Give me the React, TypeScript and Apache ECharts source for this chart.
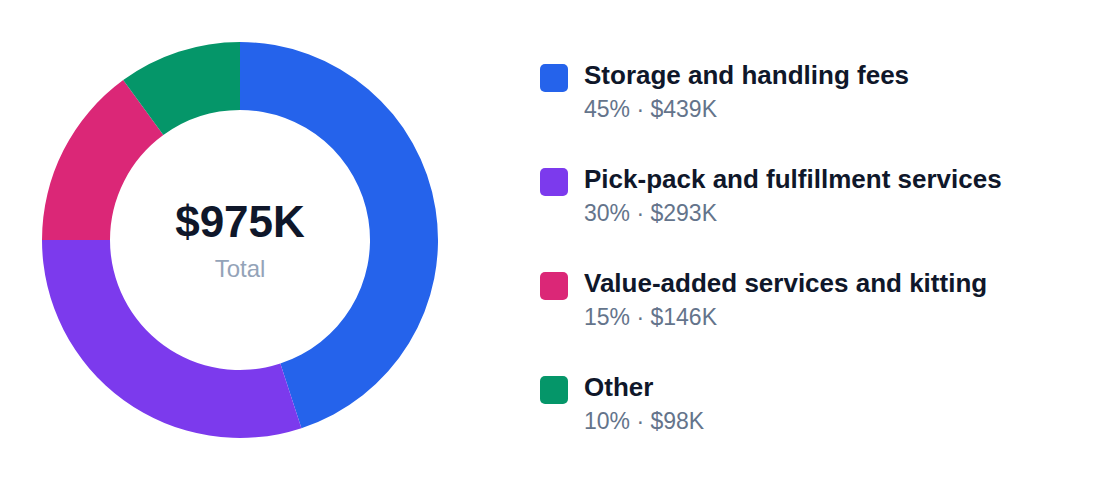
import React, { useEffect, useRef } from "react";
import * as echarts from "echarts";

const categories = [
  "Storage and handling fees",
  "Pick-pack and fulfillment services",
  "Value-added services and kitting",
  "Other",
];
const amounts = [439, 293, 146, 98]; // $K
const shares = [45, 30, 15, 10]; // %
const colors = ["#2563eb", "#7c3aed", "#db2777", "#059669"];
const totalLabel = "$975K";

const FONT = "'Liberation Sans', Arial, Helvetica, sans-serif";

const App = () => {
  const chartRef = useRef<HTMLDivElement>(null);

  useEffect(() => {
    document.body.style.margin = "0";
    const chart = echarts.init(chartRef.current, null, { renderer: "svg" });

    // legend on the right, one block per category
    const legendItems: any[] = [];
    categories.forEach((name, i) => {
      const top = 64 + i * 104;
      legendItems.push({
        type: "rect",
        shape: { x: 540, y: top, width: 28, height: 28, r: 5 },
        style: { fill: colors[i] },
      });
      legendItems.push({
        type: "text",
        x: 584,
        y: top + 11,
        style: {
          text: name,
          font: `bold 26px ${FONT}`,
          fill: "#0f172a",
          verticalAlign: "middle",
        },
      });
      legendItems.push({
        type: "text",
        x: 584,
        y: top + 45,
        style: {
          text: `${shares[i]}% · $${amounts[i]}K`,
          font: `23px ${FONT}`,
          fill: "#64748b",
          verticalAlign: "middle",
        },
      });
    });

    const option = {
      animation: false,
      backgroundColor: "#ffffff",
      graphic: [
        {
          type: "text",
          x: 240,
          y: 221,
          style: {
            text: totalLabel,
            font: `bold 44px ${FONT}`,
            fill: "#0f172a",
            align: "center",
            verticalAlign: "middle",
          },
        },
        {
          type: "text",
          x: 240,
          y: 268,
          style: {
            text: "Total",
            font: `24px ${FONT}`,
            fill: "#94a3b8",
            align: "center",
            verticalAlign: "middle",
          },
        },
        ...legendItems,
      ],
      series: [
        {
          type: "pie",
          center: [240, 240],
          radius: [130, 198],
          startAngle: 90,
          clockwise: true,
          silent: true,
          label: { show: false },
          labelLine: { show: false },
          itemStyle: { borderWidth: 0 },
          data: categories.map((name, i) => ({
            name,
            value: amounts[i],
            itemStyle: { color: colors[i] },
          })),
        },
      ],
    };

    chart.setOption(option);

    return () => {
      chart.dispose();
    };
  }, []);

  return <div ref={chartRef} style={{ width: "1120px", height: "488px" }} />;
};

export default App;
